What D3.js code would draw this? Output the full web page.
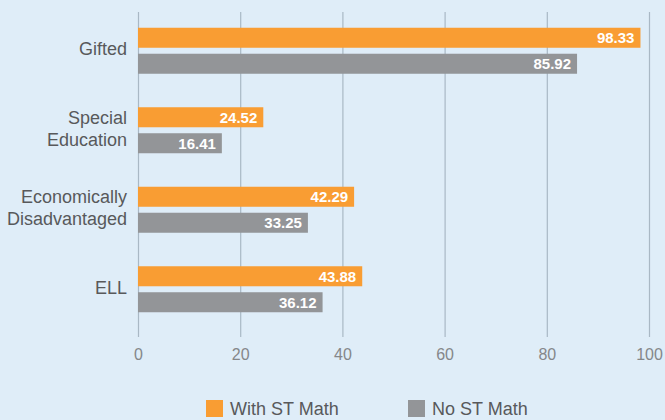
<!DOCTYPE html>
<html>
<head>
<meta charset="utf-8">
<script src="https://cdn.jsdelivr.net/npm/d3@7"></script>
<style>
  body { margin: 0; background: #dfedf8; }
  svg { display: block; }
  .cat-label { font-family: "Liberation Sans", Arial, sans-serif; font-size: 18px; fill: #58595b; }
  .value-label { font-family: "Liberation Sans", Arial, sans-serif; font-size: 15px; font-weight: bold; fill: #ffffff; }
  .axis text { font-family: "Liberation Sans", Arial, sans-serif; font-size: 16px; fill: #85878a; }
  .legend text { font-family: "Liberation Sans", Arial, sans-serif; font-size: 18px; fill: #58595b; }
</style>
</head>
<body>
<div id="chart"></div>
<script>
// Data
const categories = ["Gifted", "Special Education", "Economically Disadvantaged", "ELL"];
const categoryLines = [["Gifted"], ["Special", "Education"], ["Economically", "Disadvantaged"], ["ELL"]];
const series = ["With ST Math", "No ST Math"];
const withSTMath = [98.33, 24.52, 42.29, 43.88];
const noSTMath = [85.92, 16.41, 33.25, 36.12];
const xTicks = [0, 20, 40, 60, 80, 100];
const colors = ["#f99d33", "#939598"];

const width = 665;
const height = 420;

const svg = d3.select("#chart")
  .append("svg")
  .attr("width", width)
  .attr("height", height);

// Background
svg.append("rect")
  .attr("width", width)
  .attr("height", height)
  .attr("fill", "#dfedf8");

// Scales
const xScale = d3.scaleLinear()
  .domain([0, 100])
  .range([138, 649]);

const yScale = d3.scaleBand()
  .domain(categories)
  .range([11, 329]);

const ySub = d3.scaleBand()
  .domain(series)
  .range([0, 46])
  .paddingInner(0.23);

// Grid lines + tick labels
const gridTop = 12;
const gridBottom = 337;
const xAxis = svg.append("g")
  .attr("class", "axis")
  .attr("transform", `translate(0, ${gridBottom})`)
  .call(d3.axisBottom(xScale)
    .tickValues(xTicks)
    .tickSize(-(gridBottom - gridTop))
    .tickPadding(12)
    .tickFormat(d3.format("d")));

xAxis.select(".domain").remove();
xAxis.selectAll(".tick line")
  .attr("stroke", "#a9b8c5")
  .attr("stroke-width", 1.2);

// Bars
const rows = categories.map((c, i) => ({
  category: c,
  values: [withSTMath[i], noSTMath[i]]
}));

const groups = svg.selectAll(".group")
  .data(rows)
  .enter()
  .append("g")
  .attr("class", "group")
  .attr("transform", d => `translate(0, ${yScale(d.category) + yScale.bandwidth() / 2 - 23})`);

groups.selectAll("rect")
  .data(d => d.values.map((v, j) => ({ key: series[j], value: v, j })))
  .enter()
  .append("rect")
  .attr("x", xScale(0))
  .attr("y", d => ySub(d.key))
  .attr("width", d => xScale(d.value) - xScale(0))
  .attr("height", ySub.bandwidth())
  .attr("fill", d => colors[d.j]);

groups.selectAll(".value-label")
  .data(d => d.values.map((v, j) => ({ key: series[j], value: v })))
  .enter()
  .append("text")
  .attr("class", "value-label")
  .attr("text-anchor", "end")
  .attr("x", d => xScale(d.value) - 6)
  .attr("y", d => ySub(d.key) + ySub.bandwidth() / 2)
  .attr("dy", "0.36em")
  .text(d => d.value.toFixed(2));

// Category labels
categories.forEach((c, i) => {
  const lines = categoryLines[i];
  const cy = yScale(c) + yScale.bandwidth() / 2 - 2;
  const lineH = 22;
  const t = svg.append("text")
    .attr("class", "cat-label")
    .attr("text-anchor", "end")
    .attr("x", 127)
    .attr("y", cy - (lines.length - 1) * lineH / 2);
  lines.forEach((l, k) => {
    t.append("tspan")
      .attr("x", 127)
      .attr("dy", k === 0 ? "0.35em" : lineH)
      .text(l);
  });
});

// Legend
const legendItems = [
  { label: series[0], x: 206, color: colors[0] },
  { label: series[1], x: 408, color: colors[1] }
];
const legend = svg.append("g").attr("class", "legend");
legendItems.forEach(d => {
  legend.append("rect")
    .attr("x", d.x)
    .attr("y", 400)
    .attr("width", 17)
    .attr("height", 17)
    .attr("fill", d.color);
  legend.append("text")
    .attr("x", d.x + 24)
    .attr("y", 408.5)
    .attr("dy", "0.36em")
    .text(d.label);
});
</script>
</body>
</html>
